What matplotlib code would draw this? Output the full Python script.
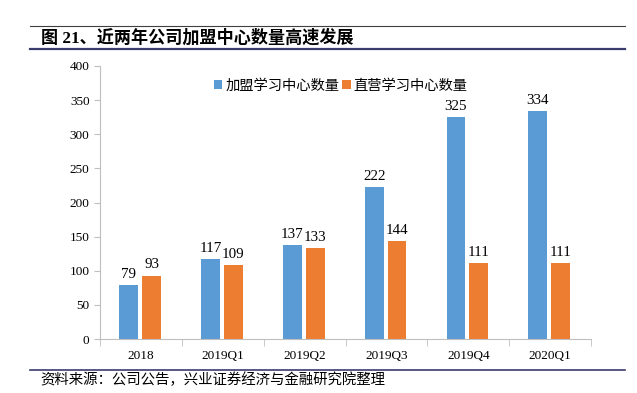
import numpy as np
import matplotlib
matplotlib.use("Agg")
import matplotlib.pyplot as plt
from matplotlib.lines import Line2D

plt.rcParams["font.family"] = ["Liberation Serif", "Noto Sans CJK SC"]

categories = ["2018", "2019Q1", "2019Q2", "2019Q3", "2019Q4", "2020Q1"]
franchise = [79, 117, 137, 222, 325, 334]
direct = [93, 109, 133, 144, 111, 111]
series_names = ["加盟学习中心数量", "直营学习中心数量"]
title = "图 21、近两年公司加盟中心数量高速发展"
source = "资料来源：公司公告，兴业证券经济与金融研究院整理"

W, H = 637, 393
fig = plt.figure(figsize=(W / 100, H / 100), dpi=100)
ax = fig.add_axes([100 / W, 1 - 339 / H, 491 / W, 273 / H])

x = np.arange(len(categories))
bw = 0.23
b1 = ax.bar(x - 0.15, franchise, bw, color="#5B9BD5", label=series_names[0])
b2 = ax.bar(x + 0.13, direct, bw, color="#ED7D31", label=series_names[1])
for bars, vals in ((b1, franchise), (b2, direct)):
    for r, v in zip(bars, vals):
        ax.text(r.get_x() + r.get_width() / 2, v + 6, str(v), ha="center", va="bottom",
                fontsize=10.8, family="Liberation Serif")

ax.set_xlim(-0.5, len(categories) - 0.5)
ax.set_ylim(0, 400)
ax.set_yticks(range(0, 401, 50))
ax.set_xticks(x)
ax.set_xticklabels(categories, fontsize=9.5)
ax.set_xticks(np.arange(-0.5, len(categories), 1), minor=True)
ax.tick_params(axis="x", which="major", length=0, pad=8)
ax.tick_params(axis="x", which="minor", length=5, color="#BFBFBF", direction="out")
ax.tick_params(axis="y", length=4, color="#BFBFBF", labelsize=9.5)
for s in ("top", "right"):
    ax.spines[s].set_visible(False)
ax.spines["left"].set_color("#BFBFBF")
ax.spines["bottom"].set_color("#BFBFBF")

leg = ax.legend(loc="upper center", bbox_to_anchor=(0.49, 1.0), ncol=2, frameon=False,
                handlelength=0.6, handleheight=0.6, handletextpad=0.2, columnspacing=0.2,
                prop={"family": ["Noto Sans CJK SC"], "size": 10.3})

# header and footer lines
fig.add_artist(Line2D([30 / W, 625 / W], [1 - 26 / H, 1 - 26 / H], color="#404040", lw=0.8))
fig.add_artist(Line2D([30 / W, 625 / W], [1 - 49 / H, 1 - 49 / H], color="#3A3C6E", lw=1.6))
fig.text(41 / W, 1 - 38 / H, title, ha="left", va="center", fontsize=12.3, fontweight="bold",
         family=["Liberation Serif", "Noto Sans CJK SC"])
fig.add_artist(Line2D([30 / W, 625 / W], [1 - 370 / H, 1 - 370 / H], color="#3A3C6E", lw=1.2))
fig.text(40 / W, 1 - 380 / H, source, ha="left", va="center", fontsize=10.4,
         family=["Noto Sans CJK SC"])

fig.savefig("out.png", dpi=100)
